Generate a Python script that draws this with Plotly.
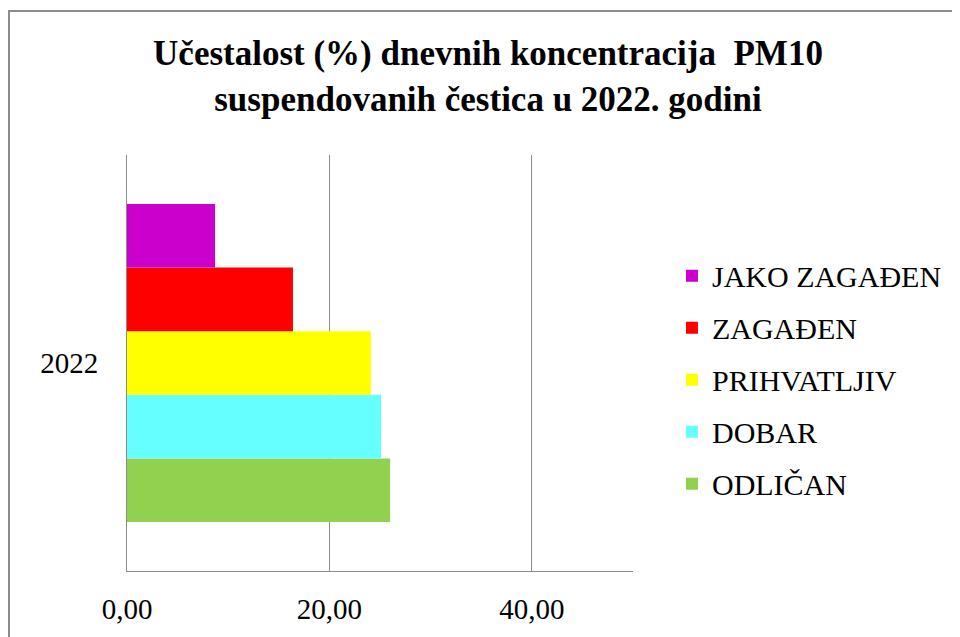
import plotly.graph_objects as go

categories = ["2022"]
series_names = ["ODLIČAN", "DOBAR", "PRIHVATLJIV", "ZAGAĐEN", "JAKO ZAGAĐEN"]
series_values = [26.0, 25.1, 24.1, 16.4, 8.7]
series_colors = ["#92D050", "#66FFFF", "#FFFF00", "#FF0000", "#CC00CC"]
x_ticks = [0, 20, 40]
x_ticklabels = ["0,00", "20,00", "40,00"]

FONT = "Liberation Serif, Times New Roman, serif"

# page has an 8px body margin, so the margins are shifted back by 8px
L, T, PW, PH = 119, 147, 506, 416

fig = go.Figure()
for i, (name, val, col) in enumerate(zip(series_names, series_values, series_colors)):
    fig.add_trace(go.Bar(
        y=categories, x=[val], name=name, orientation="h",
        marker=dict(color=col, line=dict(width=0)),
        legendgroup=name, legendrank=len(series_names) - i,
    ))

fig.update_layout(
    width=960, height=637,
    margin=dict(l=L, r=960 - L - PW, t=T, b=637 - T - PH),
    paper_bgcolor="white", plot_bgcolor="white",
    barmode="group", bargap=0.235, bargroupgap=0,
    font=dict(family=FONT, size=28, color="black"),
    title=dict(
        text="<b>Učestalost (%) dnevnih koncentracija  PM10<br>suspendovanih čestica u 2022. godini</b>",
        x=0.5, xanchor="center", y=0.91, yanchor="top",
        font=dict(family=FONT, size=35, color="black"),
    ),
    legend=dict(
        x=1.077, xanchor="left", y=0.46, yanchor="middle",
        traceorder="grouped", tracegroupgap=10,
        font=dict(family=FONT, size=30, color="black"),
        itemwidth=30,
    ),
    xaxis=dict(
        range=[0, 50], tickvals=x_ticks, ticktext=x_ticklabels,
        showgrid=True, gridcolor="#8c8c8c", gridwidth=1,
        showline=True, linecolor="#8c8c8c", linewidth=1,
        zeroline=False, ticks="", ticklabelstandoff=12,
        tickfont=dict(family=FONT, size=29),
    ),
    yaxis=dict(
        showline=True, linecolor="#8c8c8c", linewidth=1,
        showgrid=False, ticks="", ticklabelstandoff=22,
        tickfont=dict(family=FONT, size=29),
    ),
    shapes=[dict(
        type="rect", xref="paper", yref="paper",
        x0=(1 - L) / PW, x1=(970 - L) / PW,
        y0=(T + PH - 660) / PH, y1=(T + PH - 3) / PH,
        line=dict(color="#8c8c8c", width=2), fillcolor="rgba(0,0,0,0)",
        layer="below",
    )],
)

fig.write_html("out.html")
